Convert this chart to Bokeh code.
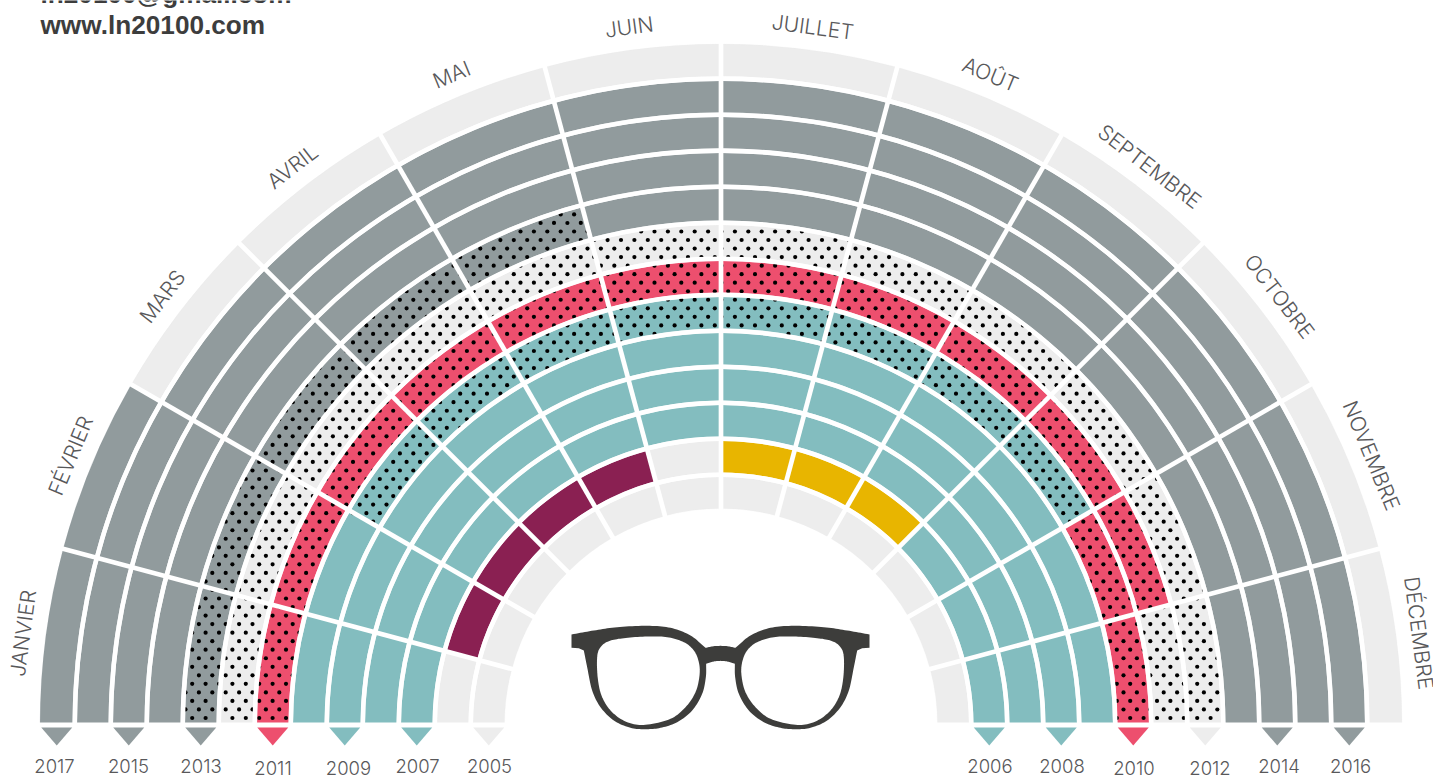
import numpy as np
from bokeh.plotting import figure
from bokeh.models import Range1d
from bokeh.core.properties import value
from bokeh.embed import file_html
from bokeh.resources import INLINE

months = ["JANVIER", "FÉVRIER", "MARS", "AVRIL", "MAI", "JUIN", "JUILLET", "AOÛT",
          "SEPTEMBRE", "OCTOBRE", "NOVEMBRE", "DÉCEMBRE"]
years = list(range(2005, 2018))
y2005 = list("LLLLLLLLLLLL")
y2006 = list("LVVVVLYYYAAA")
y2007 = list("AAAAAAAAAAAA")
y2008 = list("AAAAAAAAAAAA")
y2009 = list("AAAAAAAAAAAA")
y2010 = list("AATTTTTTTTRR")
y2011 = list("RRRRRRRRRRRP")
y2012 = list("PPPPPPPPPPPP")
y2013 = list("DDDDDGGGGGGG")
y2014 = list("GGGGGGGGGGGG")
y2015 = list("GGGGGGGGGGGG")
y2016 = list("GGGGGGGGGGGG")
y2017 = list("GGLLLLLLLLLL")
rows = [y2005, y2006, y2007, y2008, y2009, y2010, y2011, y2012, y2013, y2014, y2015, y2016, y2017]

colors = {"L": "#ededed", "V": "#8a2052", "Y": "#e8b500", "A": "#83bdbf", "T": "#83bdbf",
          "R": "#ed4f6e", "P": "#ededed", "D": "#919b9d", "G": "#919b9d"}
dotted = set("TRPD")

# label placement (pixel centres / baselines)
label_x = {2017: 54, 2015: 128, 2013: 200.5, 2011: 272.5, 2009: 348, 2007: 417, 2005: 489,
           2006: 989.5, 2008: 1061.5, 2010: 1133.5, 2012: 1209.5, 2014: 1278.5, 2016: 1350}
low_labels = {2009, 2010, 2011, 2012}

W, H = 1433, 776
CX, CY = 720.5, 724.5
R0, PITCH, BAND = 216.5, 36.0, 31.5
TEXT = "#58585a"
FONT = value("Inter Light")
TEXT_LIFT = 8.0

p = figure(width=W, height=H, output_backend="svg", toolbar_location=None,
           x_range=Range1d(-CX, W - CX), y_range=Range1d(CY - H, CY),
           min_border=0, outline_line_color=None, background_fill_color="white")
p.axis.visible = False
p.grid.visible = False
p.styles = {"position": "absolute", "left": "0px", "top": "0px"}

# cells
ci, co, cs, ce, cc = [], [], [], [], []
for i, row in enumerate(rows):
    for m, st in enumerate(row):
        ci.append(R0 + PITCH * i)
        co.append(R0 + PITCH * i + BAND + (1.0 if i == 12 else 0))
        cs.append(np.radians(180 - 15 * (m + 1)))
        ce.append(np.radians(180 - 15 * m))
        cc.append(colors[st])
p.annular_wedge(x=0, y=0, inner_radius=ci, outer_radius=co, start_angle=cs, end_angle=ce,
                fill_color=cc, line_color=cc, line_width=0.2)

# dots: a fixed staggered lattice, kept only inside dotted cells
SX, SY = 13.4, 17.07
X0, Y0 = 654.0, 231.0
lat = []
for n in range(-14, 60):
    for k in range(-60, 60):
        lat.append((X0 + SX * k, Y0 + SY * n))
        lat.append((X0 + SX * (k + 0.5), Y0 + SY * (n + 0.5)))
lat = np.array(lat)
dx = lat[:, 0] - CX
dy = CY - lat[:, 1]
rr = np.hypot(dx, dy)
aa = np.degrees(np.arctan2(dy, dx))
keep = np.zeros(len(lat), bool)
for i, row in enumerate(rows):
    for m, st in enumerate(row):
        if st in dotted:
            a1, a0 = 180 - 15 * m, 180 - 15 * (m + 1)
            keep |= (rr > R0 + PITCH * i - 1.6) & (rr < R0 + PITCH * i + BAND + 1.6) & \
                    (aa > a0 - 0.3) & (aa < a1 + 0.3) & (dy > 2)
p.scatter(dx[keep], dy[keep], marker="circle", size=4.2, fill_color="#000000", line_color=None)

# white separators over the dots
gi = [R0 + PITCH * i + BAND for i in range(12)]
go = [R0 + PITCH * (i + 1) for i in range(12)]
p.annular_wedge(x=0, y=0, inner_radius=gi, outer_radius=go, start_angle=0, end_angle=np.pi,
                fill_color="white", line_color=None)
for m in range(1, 12):
    a = np.radians(15 * m)
    p.line([205 * np.cos(a), 690 * np.cos(a)], [205 * np.sin(a), 690 * np.sin(a)],
           line_color="white", line_width=4.7)
p.quad(left=-CX, right=W - CX, bottom=-1, top=CY - 722, fill_color="white", line_color=None)

# triangles and year labels
tri_x, tri_y, tri_c = [], [], []
lx, ly, lt = [], [], []
for i, yr in enumerate(years):
    row = rows[i]
    mid = R0 + PITCH * i + BAND / 2
    sgn = -1 if i % 2 == 0 else 1
    st = row[0] if sgn < 0 else row[-1]
    c = mid * sgn
    tri_x.append([c - 15.5, c + 15.5, c])
    tri_y.append([CY - 727, CY - 727, CY - 745])
    tri_c.append(colors[st])
    lx.append(label_x[yr] - CX)
    ly.append(CY - (775 if yr in low_labels else 773) + TEXT_LIFT)
    lt.append(str(yr))
p.patches(tri_x, tri_y, fill_color=tri_c, line_color=None)
p.text(lx, ly, text=lt, text_font=FONT, text_font_size="18.5px", text_color=TEXT,
       text_align="center", text_baseline="alphabetic")

# month labels
R_LABEL = 704
mx, my, mr = [], [], []
for m in range(12):
    deg = 180 - 7.5 - 15 * m
    a = np.radians(deg)
    mx.append(R_LABEL * np.cos(a))
    my.append(R_LABEL * np.sin(a))
    mr.append(np.radians(deg - 90))
p.text(mx, my, text=months, angle=mr, text_font=FONT, text_font_size="21px", text_color=TEXT,
       text_align="center", text_baseline="middle")

# heading, cut by the top of the page as in the original
p.text([40 - CX, 40 - CX], [CY + 6.5, CY - 24], text=["ln20100@gmail.com", "www.ln20100.com"],
       text_font=value("Liberation Sans"), text_font_style="bold", text_font_size="26.2px",
       text_color="#3d3d3d", text_align="left", text_baseline="alphabetic")


# glasses
def smooth(pts, closed=False, n=10):
    pts = np.asarray(pts, float)
    if closed:
        P = np.vstack([pts[-1], pts, pts[0], pts[1]])
    else:
        P = np.vstack([2 * pts[0] - pts[1], pts, 2 * pts[-1] - pts[-2]])
    out = []
    for j in range(1, len(P) - 2):
        for t in np.linspace(0, 1, n, endpoint=False):
            a, b, c, d = P[j - 1], P[j], P[j + 1], P[j + 2]
            out.append(0.5 * (2 * b + (c - a) * t + (2 * a - 5 * b + 4 * c - d) * t ** 2 +
                              (3 * b - a - 3 * c + d) * t ** 3))
    out.append(P[-2])
    return np.array(out)


glass_top = [(63, 102), (130, 90), (200, 80), (290, 76), (360, 82), (420, 105), (465, 142)]
glass_bridge_top = [(465, 142), (490, 137), (510, 136)]
glass_bridge_low = [(510, 181), (490, 183), (467, 190)]
glass_rim = [(467, 190), (466, 230), (455, 280), (425, 330), (380, 365), (330, 382), (285, 386),
             (240, 382), (190, 360), (150, 320), (125, 270), (110, 200), (100, 150)]
glass_end = [(100, 150), (85, 143), (63, 142), (63, 102)]
glass_lens = [(140, 170), (150, 140), (175, 122), (220, 113), (290, 108), (350, 110), (400, 125),
              (430, 150), (445, 185), (447, 225), (435, 275), (405, 320), (360, 355), (285, 373),
              (230, 365), (185, 335), (155, 290), (142, 235)]

upper = np.vstack([smooth(glass_top), smooth(glass_bridge_top)])
lower = np.vstack([smooth(glass_bridge_low), smooth(glass_rim), np.array(glass_end, float)])
mirror = lambda a: np.column_stack([1020 - a[:, 0], a[:, 1]])
outline = np.vstack([upper, mirror(upper)[::-1], mirror(lower)[::-1], lower])
lens = smooth(glass_lens, closed=True)


def to_data(a):
    return 550 + a[:, 0] / 3 - CX, CY - (600 + a[:, 1] / 3)


ox, oy = to_data(outline)
p.patch(ox, oy, fill_color="#3d3d3b", line_color=None)
for L in (lens, mirror(lens)):
    x_, y_ = to_data(L)
    p.patch(x_, y_, fill_color="white", line_color=None)

open("out.html", "w").write(file_html(p, INLINE))
